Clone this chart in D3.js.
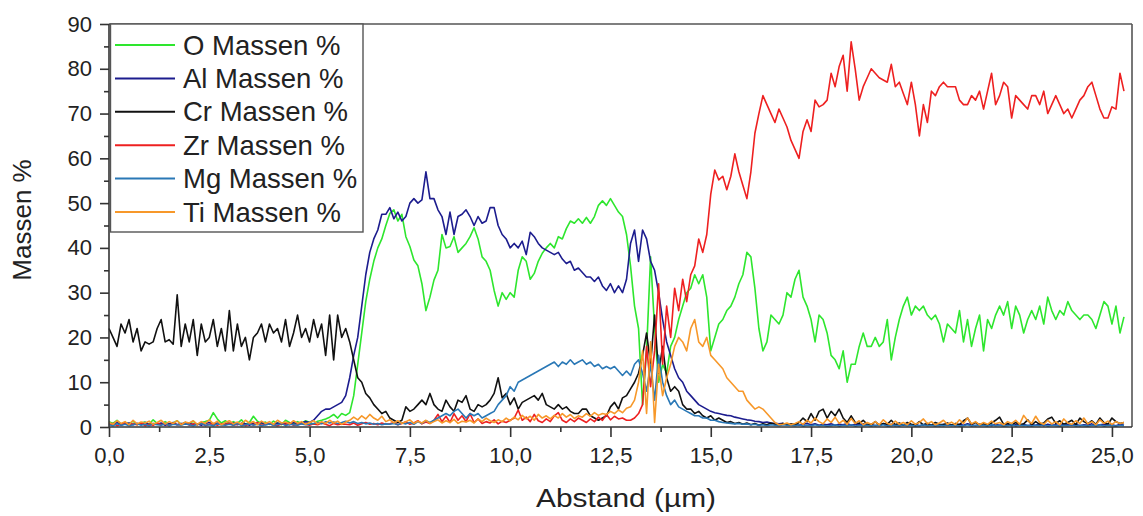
<!DOCTYPE html>
<html><head><meta charset="utf-8">
<script src="https://cdn.jsdelivr.net/npm/d3@7"></script>
<style>
body{margin:0;background:#fff}
svg{display:block}
text{font-family:"Liberation Sans",Arial,sans-serif;fill:#222}
</style>
</head><body>
<svg id="chart" width="1143" height="516"></svg>
<script>
// sample positions: start 0 µm, step 0.1 µm
const xStart = 0, xStep = 0.1;

const oMassen = [1.2,0.8,1.5,0.6,1.0,0.7,1.3,0.5,0.9,1.1,
0.6,1.6,0.8,0.5,1.2,0.7,0.9,1.4,0.6,1.0,
0.8,1.3,0.5,1.0,1.2,1.5,3.2,1.8,0.9,1.4,
0.7,1.2,0.8,1.6,0.6,1.0,2.4,1.3,0.8,1.1,
0.6,1.3,0.9,0.5,1.5,1.0,0.7,1.2,0.8,1.4,
1.0,0.6,1.3,1.5,1.8,2.2,2.8,2.0,3.0,2.6,
3.2,7,14,21,28,33,37,40,42,45,
47.7,48.5,46,47.5,42.5,40.3,37.3,36,32,26,
29,32.8,35,43,40,40.3,42.5,39,40,41,
42.5,44.5,42,38,37,35,30.5,27,30,28.5,
30,29,35,38,37,33,34.3,37,38.8,40,
41,40,42.5,42,44.3,46,45.5,46.5,45.5,46.8,
45.5,47,49.5,50.5,49.5,51,49.5,48,47,43,
36,27,22,5,17,38,22,10,14,12,
18,20,24,27,30,31,34,32,34,29,
17,20,23,24,26,27,29,32,34,39,
38,31,22,17,19,25,24,23,25,30,
29,33,35,29,27,24,19,25,24,21,
16,15,13,17,10,14,14,18,21,18,
18,20,18,19,24,15,20,24,27,29,
25,27,26,27,25,24,25,23,19,23,
22,21,26,19,24,18,22,25,17,24,
22,25,27,25,28,22,27,25,21,24,
26,24,27,23,29,26,24,26,25,28,
26,25,24,25,25,24,22,25,28,27,
23,27,21,24.6];

const alMassen = [0.8,0.5,1.0,0.4,0.7,0.9,0.5,0.8,0.6,1.0,
0.5,0.8,0.6,0.9,0.4,0.7,1.0,0.5,0.8,0.6,
0.9,0.5,0.7,0.4,0.8,1.0,0.6,0.9,0.5,0.7,
0.6,0.9,0.5,0.8,0.7,0.4,0.9,0.6,1.0,0.5,
0.7,0.5,0.9,0.6,0.8,0.5,1.0,0.7,0.9,1.2,
1.0,1.5,2.5,3.5,4.0,4.0,4.5,5.0,5.5,7.0,
11,16,20,27,34,39,42,44,47.5,47.5,
49,46.5,48,46,47,50,51,50,50.7,57,
51,51,48.5,47,43,48,43,47,47.5,48.5,
47,45,47,45.5,46,49,49,45,43,42,
40,41,40,41.5,38.5,43.5,42.5,41,40,39.5,
39,38.5,39,37.5,36.5,37,35,35.5,34.5,33.5,
33.5,32.5,33.5,31.5,30.5,32,30,31.5,30,33,
41,44,37,44,42,37,35,30,24,19,
16,13,11,10,8,7,6,5,4.5,4,
3.5,3.2,3.0,2.8,2.6,2.5,2.2,2.0,1.8,1.6,
1.5,1.3,1.2,1.0,1.1,0.9,0.8,0.7,0.8,0.6,
0.5,0.7,0.4,0.6,0.8,0.5,0.7,0.4,0.6,0.5,
0.7,0.4,0.6,0.5,0.8,0.4,0.6,0.5,0.7,0.4,
0.6,0.3,0.5,0.7,0.4,0.6,0.3,0.5,0.4,0.6,
0.4,0.6,0.3,0.5,0.7,0.4,0.5,0.3,0.6,0.4,
0.5,0.3,0.6,0.4,0.7,0.5,0.3,0.6,0.4,0.5,
0.3,0.6,0.4,0.5,0.7,0.3,0.5,0.4,0.6,0.3,
0.5,0.4,0.7,0.3,0.6,0.4,0.5,0.3,0.6,0.5,
0.4,0.6,0.3,0.5,0.4,0.7,0.3,0.5,0.6,0.4,
0.5,0.3,0.6,0.4];

const crMassen = [22,20,18,23,21,24,19,22,17,19,
18.5,19,22,24,19,19.5,18.5,29.5,18,23,
19,24,16,23,19,20,24,18,22,17,
26,17,23,18,20,15,20,21,23,19,
23,21,22,19,24,18,21,25,20,22,
19,24,20,23,16,25,15,25,20,22,
19,15,11,10,7.5,6.5,5,4,3,3.5,
2,1.5,1,1.5,4.5,3.5,4,5,6,5,
7.5,5,4,3.5,6,4.5,3.5,6,5.5,7,
4,3.5,5,4.5,5,6,7.5,11,6.5,7.5,
5,6.5,4,5.5,6,6.5,7,6,7.5,5,
4.5,4,5,4,4.5,3.5,3,3,4,4,
2.5,2,1.5,2,2.5,4.5,5.5,4,6.5,7,
8.5,10,12,16,21,14,25,12,18,11,
8,9,8,5,4,4,3,3.5,2.5,2,
2.5,1.5,2,1.5,1,1.2,0.8,1.0,0.6,0.9,
0.5,0.8,0.4,0.7,0.5,0.9,0.6,0.4,0.8,0.5,
0.7,0.5,1.0,2.0,1.2,3.0,1.5,3.5,4.0,2.0,
3.5,2.5,4.0,2.0,1.0,2.5,1.0,0.8,1.5,0.6,
0.5,1.2,0.4,0.8,0.6,1.5,0.5,0.9,0.4,1.0,
0.6,0.4,1.2,0.5,0.8,0.4,1.0,0.6,0.5,0.9,
0.4,0.8,0.5,1.4,2.0,0.6,1.0,0.5,0.7,0.4,
0.9,1.5,2.2,0.6,0.8,0.4,1.0,0.5,0.7,1.6,
0.5,1.2,0.6,0.9,1.8,2.2,0.8,1.4,0.6,1.0,
1.5,0.5,2.0,1.2,0.7,1.4,0.6,2.0,1.0,0.6,
2.0,1.2,0.8,1.0];

const zrMassen = [0.5,0.8,0.3,0.6,1.0,0.4,0.7,0.5,0.9,0.3,
0.6,0.4,0.9,0.5,0.7,0.3,0.8,0.5,0.6,1.0,
0.4,0.7,0.5,0.9,0.3,0.6,0.8,0.4,0.7,0.5,
0.9,0.4,0.6,0.8,0.3,0.7,0.5,1.0,0.4,0.6,
0.8,0.5,0.3,0.7,0.6,0.9,0.4,0.5,0.8,0.6,
0.4,0.7,0.5,0.9,0.6,0.3,0.8,0.5,0.7,0.6,
0.5,0.9,0.4,0.7,1.0,0.6,0.8,0.5,0.9,0.6,
0.7,1.0,0.5,0.8,1.2,0.6,0.9,1.4,0.7,1.1,
0.8,1.5,2.8,1.2,2.4,1.0,3.0,1.5,2.5,1.2,
3.0,1.0,1.8,0.8,1.2,0.9,1.6,0.7,1.3,1.0,
1.5,2.0,3.8,1.5,2.2,1.2,2.8,1.4,1.0,1.8,
1.2,2.5,3.2,1.5,1.0,1.8,1.2,2.0,1.5,1.0,
1.8,1.2,2.2,1.5,2.8,1.6,2.4,1.8,2.0,1.5,
1.5,2.0,3.0,5.0,18,9,17,32,14,27,
20,31,26,33,28,34,36,42,39,43,
52,57.4,55.2,56,53,56,61,57,54,51,
57,65.6,70,74,72,70,68,71,69,67,
64,62,60,66,68.6,66,73,71.5,72,73,
79,76,80.5,83,75,86,80,73,76,78,
80,79,78,77.5,77,81,76,77,74.5,72,
77,72,65,72,68,75,74,76,77,76,
76,76,73,72,72,74,73,75,71,75,
79,72,74,77,76,69,74,73,72,71,
74,74,72,75,70,72,74,72,70,71,
69,71,73,74,76,77,74,71,69,69,
71.5,71,79,75];

const mgMassen = [0.5,0.3,0.7,0.4,0.6,0.3,0.5,0.8,0.4,0.6,
0.3,0.7,0.5,0.4,0.8,0.3,0.6,0.5,0.4,0.7,
0.5,0.3,0.6,0.8,0.4,0.5,0.3,0.7,0.5,0.4,
0.6,0.4,0.8,0.3,0.5,0.7,0.4,0.6,0.3,0.5,
0.7,0.4,0.5,0.8,0.3,0.6,0.5,0.4,0.7,0.5,
0.6,0.8,1.0,0.7,1.2,0.9,1.1,0.8,1.0,1.3,
0.9,1.2,0.8,1.0,0.7,0.9,0.6,0.8,0.5,0.7,
0.6,0.8,0.5,0.9,0.7,1.0,0.6,1.2,0.8,1.4,
1.0,1.5,2.0,2.5,3.0,2.5,3.5,4.0,3.0,2.0,
3.0,2.5,3.0,2.0,2.5,3.0,3.5,5.0,6.0,7.0,
9.0,8.0,10,10.5,11,11.5,12,12.5,13,13.5,
14,14.5,13.5,14.5,14,15,14,14.5,15,14,
14.5,13.5,14,13,13.5,13,13.5,12.5,11.5,12.5,
11.5,14,15,12,8,14,6,16,10,7,
5,6,4.5,4,3.5,3,2.5,2.5,2,2,
1.5,1.5,1.2,1.0,0.9,0.8,0.7,0.8,0.6,0.7,
0.5,0.6,0.4,0.5,0.3,0.5,0.4,0.3,0.5,0.4,
0.4,0.3,0.5,0.2,0.4,0.3,0.5,0.3,0.4,0.2,
0.3,0.5,0.2,0.4,0.3,0.5,0.2,0.4,0.3,0.4,
0.2,0.4,0.3,0.5,0.2,0.3,0.4,0.2,0.5,0.3,
0.4,0.2,0.3,0.5,0.3,0.4,0.2,0.4,0.3,0.5,
0.3,0.4,0.2,0.3,0.5,0.2,0.4,0.3,0.4,0.2,
0.5,0.3,0.4,0.2,0.3,0.5,0.2,0.4,0.3,0.4,
0.2,0.4,0.3,0.5,0.2,0.4,0.3,0.2,0.4,0.3,
0.5,0.2,0.4,0.3,0.2,0.4,0.3,0.5,0.2,0.4,
0.3,0.2,0.4,0.3];

const tiMassen = [1.0,0.6,1.4,0.8,1.2,0.5,1.5,0.7,1.1,0.9,
1.3,0.6,1.0,1.5,0.7,1.2,0.8,1.4,0.5,1.1,
0.9,1.4,0.6,1.2,0.8,1.6,0.7,1.3,0.5,1.0,
1.4,0.7,1.1,0.6,1.5,0.9,1.2,0.5,1.3,0.8,
1.2,0.6,1.5,0.9,1.1,0.7,1.4,0.8,1.2,0.6,
1.0,1.4,0.7,1.2,0.8,1.5,0.9,1.3,0.6,1.1,
1.5,2.2,1.6,2.5,1.8,2.8,2.0,1.5,2.4,1.2,
1.6,0.9,1.4,0.8,1.2,1.6,0.8,1.3,0.9,1.5,
0.8,1.2,1.6,0.9,1.4,1.0,1.7,0.8,1.3,1.1,
1.5,0.9,1.8,1.2,2.0,1.4,1.0,1.6,1.2,2.0,
1.4,2.2,1.6,2.6,1.8,2.4,1.5,2.8,2.0,2.5,
1.8,2.6,2.0,3.0,2.2,2.8,1.9,2.5,2.2,3.0,
2.4,3.2,2.6,3.0,2.8,3.5,3.0,3.8,3.2,4.2,
4.5,6,10,17,3,19,1,14,7,11,
14,18,20,19,17,22,24,19,18,20,
16,15,14,13,11,10,9,8,8,6,
5,4,4.5,4,3,2,1,0.5,0.6,0.9,
0.5,0.8,1.2,0.6,1.5,0.9,2.0,1.2,0.7,1.8,
1.0,2.2,0.8,1.5,0.6,1.9,0.8,1.4,0.5,1.0,
0.6,1.2,0.5,1.6,0.8,0.5,1.3,0.6,1.0,0.5,
1.4,0.6,1.0,1.8,0.7,1.2,0.5,0.9,1.5,0.6,
1.1,0.5,1.6,0.8,2.0,0.7,1.2,0.5,1.0,0.6,
1.3,0.7,1.0,0.5,1.2,0.8,1.5,0.6,2.6,1.4,
0.8,2.4,1.0,0.6,1.5,0.7,1.2,0.5,1.8,0.9,
0.6,1.4,0.8,2.0,0.7,1.2,0.5,1.6,0.8,1.3,
0.6,1.2,0.8,1.0];

const seriesNames = ["O Massen %","Al Massen %","Cr Massen %","Zr Massen %","Mg Massen %","Ti Massen %"];
const seriesColors = ["#2ee62e","#1c1c8e","#111111","#ee2020","#2a78b6","#f7982a"];
const seriesValues = [oMassen, alMassen, crMassen, zrMassen, mgMassen, tiMassen];

const xTickValues = [0,2.5,5,7.5,10,12.5,15,17.5,20,22.5,25];
const xTickLabels = ["0,0","2,5","5,0","7,5","10,0","12,5","15,0","17,5","20,0","22,5","25,0"];
const xMinorTicks = [1.25,3.75,6.25,8.75,11.25,13.75,16.25,18.75,21.25,23.75];
const yTickValues = [0,10,20,30,40,50,60,70,80,90];
const yMinorTicks = [5,15,25,35,45,55,65,75,85];
const xTitle = "Abstand (µm)";
const yTitle = "Massen %";

const L = 109, R = 1132, T = 24, B = 427;
const svg = d3.select("#chart");
const x = d3.scaleLinear().domain([0, 25.5]).range([L, R]);
const y = d3.scaleLinear().domain([0, 90]).range([B, T]);

// data lines
const line = d3.line()
  .x((d, i) => x(xStart + i * xStep))
  .y(d => y(d));
const plot = svg.append("g");
seriesValues.forEach((vals, k) => {
  plot.append("path")
    .datum(vals)
    .attr("fill", "none")
    .attr("stroke", seriesColors[k])
    .attr("stroke-width", 1.6)
    .attr("stroke-linejoin", "round")
    .attr("d", line);
});

// frame (top & right)
svg.append("line").attr("x1", L).attr("x2", R).attr("y1", T).attr("y2", T)
  .attr("stroke", "#555").attr("stroke-width", 1.6);
svg.append("line").attr("x1", R).attr("x2", R).attr("y1", T).attr("y2", B)
  .attr("stroke", "#555").attr("stroke-width", 1.6);

// axes
const xAxis = d3.axisBottom(x).tickValues(xTickValues)
  .tickFormat((d, i) => xTickLabels[i]).tickSize(10).tickSizeOuter(0).tickPadding(10);
const gx = svg.append("g").attr("transform", `translate(0,${B})`).call(xAxis);
gx.select(".domain").attr("stroke", "#333").attr("stroke-width", 1.6).attr("d", `M${L},0H${R}`);
gx.selectAll(".tick line").attr("stroke", "#333").attr("stroke-width", 1.6);
gx.selectAll("text").attr("font-size", 22).attr("fill", "#222")
  .style("font-family", '"Liberation Sans", Arial, sans-serif');
svg.append("g").attr("transform", `translate(0,${B})`)
  .call(d3.axisBottom(x).tickValues(xMinorTicks).tickSize(5).tickFormat(""))
  .call(g => g.select(".domain").remove())
  .selectAll("line").attr("stroke", "#333").attr("stroke-width", 1.6);

const yAxis = d3.axisLeft(y).tickValues(yTickValues).tickSize(9).tickSizeOuter(0).tickPadding(8);
const gy = svg.append("g").attr("transform", `translate(${L},0)`).call(yAxis);
gy.select(".domain").attr("stroke", "#333").attr("stroke-width", 1.6).attr("d", `M0,${T}V${B}`);
gy.selectAll(".tick line").attr("stroke", "#333").attr("stroke-width", 1.6);
gy.selectAll("text").attr("font-size", 22).attr("fill", "#222")
  .style("font-family", '"Liberation Sans", Arial, sans-serif');
svg.append("g").attr("transform", `translate(${L},0)`)
  .call(d3.axisLeft(y).tickValues(yMinorTicks).tickSize(5).tickFormat(""))
  .call(g => g.select(".domain").remove())
  .selectAll("line").attr("stroke", "#333").attr("stroke-width", 1.6);

// axis titles
svg.append("text").attr("x", 626).attr("y", 498)
  .attr("text-anchor", "middle").attr("dominant-baseline", "central")
  .attr("font-size", 26).attr("textLength", 180).attr("lengthAdjust", "spacingAndGlyphs")
  .text(xTitle);
svg.append("text").attr("transform", "translate(22,220) rotate(-90)")
  .attr("text-anchor", "middle").attr("dominant-baseline", "central")
  .attr("font-size", 26).text(yTitle);

// legend
const leg = svg.append("g");
leg.append("rect").attr("x", 110.5).attr("y", T).attr("width", 252.5).attr("height", 208)
  .attr("fill", "#fff").attr("stroke", "#555").attr("stroke-width", 1.4);
seriesNames.forEach((name, k) => {
  const cy = 45 + k * 33.4;
  leg.append("line").attr("x1", 115).attr("x2", 175).attr("y1", cy).attr("y2", cy)
    .attr("stroke", seriesColors[k]).attr("stroke-width", 2);
  leg.append("text").attr("x", 183).attr("y", cy)
    .attr("dominant-baseline", "central").attr("font-size", 27.5).text(name);
});
</script>
</body></html>
